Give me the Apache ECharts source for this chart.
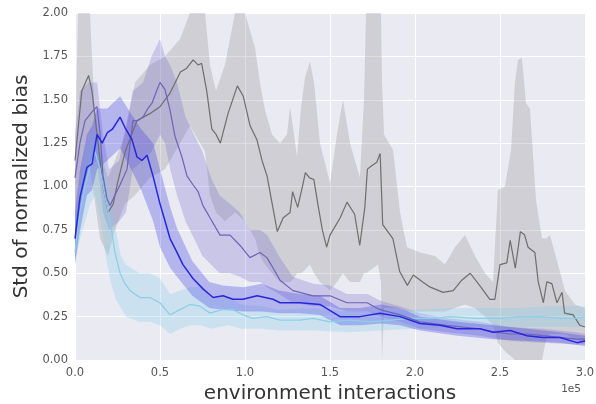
<!DOCTYPE html>
<html><head><meta charset="utf-8">
<script src="https://cdn.jsdelivr.net/npm/echarts@6/dist/echarts.min.js"></script>
<style>html,body{margin:0;padding:0;background:#fff}#c{width:596px;height:404px}</style>
</head><body><div id="c"></div>
<script>
// x in units of 1e5 environment interactions
var xTicks = [0, 0.5, 1.0, 1.5, 2.0, 2.5, 3.0];
var yTicks = [0, 0.25, 0.5, 0.75, 1.0, 1.25, 1.5, 1.75, 2.0];

var grayMean = [[0,1.15],[0.02,1.35],[0.04,1.55],[0.08,1.64],[0.10,1.55],[0.13,1.30],[0.165,1.00],[0.195,0.85],[0.225,0.90],[0.25,1.02],[0.295,1.20],[0.365,1.38],[0.44,1.42],[0.50,1.46],[0.56,1.54],[0.62,1.66],[0.655,1.68],[0.695,1.73],[0.725,1.70],[0.745,1.71],[0.775,1.55],[0.805,1.33],[0.83,1.30],[0.855,1.25],[0.90,1.42],[0.955,1.58],[0.99,1.52],[1.03,1.35],[1.07,1.27],[1.10,1.15],[1.13,1.06],[1.16,0.90],[1.19,0.74],[1.225,0.82],[1.265,0.85],[1.28,0.97],[1.31,0.88],[1.34,1.01],[1.355,1.08],[1.38,1.05],[1.405,1.04],[1.43,0.89],[1.455,0.75],[1.48,0.65],[1.50,0.72],[1.56,0.82],[1.60,0.91],[1.645,0.84],[1.675,0.66],[1.705,0.88],[1.72,1.10],[1.745,1.12],[1.775,1.14],[1.795,1.19],[1.81,0.78],[1.87,0.70],[1.91,0.51],[1.955,0.43],[1.99,0.49],[2.045,0.45],[2.09,0.42],[2.165,0.39],[2.225,0.40],[2.275,0.46],[2.325,0.50],[2.38,0.43],[2.44,0.35],[2.47,0.35],[2.50,0.55],[2.54,0.56],[2.56,0.69],[2.59,0.53],[2.62,0.74],[2.645,0.72],[2.665,0.65],[2.705,0.62],[2.725,0.45],[2.755,0.33],[2.775,0.45],[2.805,0.44],[2.835,0.33],[2.865,0.39],[2.88,0.27],[2.93,0.26],[2.97,0.20],[3.0,0.19]];
var grayBand = [[0,0.55,1.2],[0.018,0.7,2.0],[0.047,1.0,2.0],[0.088,1.1,2.0],[0.112,0.95,1.5],[0.147,0.7,1.2],[0.194,0.6,1.05],[0.235,0.75,1.15],[0.294,0.9,1.3],[0.353,0.95,1.6],[0.441,1.05,1.7],[0.529,1.1,1.75],[0.618,1.25,1.85],[0.676,1.35,2.0],[0.765,1.2,2.0],[0.794,0.95,1.7],[0.829,0.85,1.55],[0.882,0.8,1.7],[0.941,0.85,2.0],[1.0,0.8,2.0],[1.029,0.75,1.9],[1.059,0.7,1.8],[1.088,0.6,1.6],[1.118,0.55,1.44],[1.159,0.5,1.3],[1.206,0.45,1.25],[1.247,0.45,1.3],[1.265,0.45,1.46],[1.288,0.47,1.3],[1.306,0.5,1.17],[1.329,0.5,1.45],[1.353,0.52,1.63],[1.382,0.55,1.72],[1.406,0.5,1.6],[1.441,0.45,1.25],[1.5,0.40,1.02],[1.541,0.45,1.3],[1.576,0.5,1.5],[1.618,0.45,1.25],[1.676,0.45,1.05],[1.7,0.5,1.5],[1.712,0.5,2.0],[1.782,0.55,2.0],[1.8,0.45,2.0],[1.806,0.0,1.6],[1.818,0.3,1.3],[1.871,0.3,1.21],[1.912,0.3,0.85],[1.953,0.28,0.65],[2.029,0.28,0.62],[2.118,0.28,0.6],[2.176,0.28,0.55],[2.235,0.3,0.65],[2.294,0.32,0.72],[2.353,0.3,0.6],[2.412,0.25,0.5],[2.459,0.2,0.45],[2.488,0.1,0.98],[2.529,0.05,1.0],[2.565,0.02,1.21],[2.588,0.0,1.6],[2.606,0.0,1.73],[2.629,0.0,1.74],[2.653,0.0,1.48],[2.676,0.0,1.45],[2.712,0.0,0.92],[2.747,0.0,0.7],[2.771,0.12,0.7],[2.794,0.15,0.72],[2.841,0.15,0.55],[2.882,0.15,0.4],[2.941,0.12,0.32],[3.0,0.1,0.3]];

var purpleMean = [[0,1.05],[0.029,1.25],[0.059,1.38],[0.076,1.40],[0.10,1.43],[0.129,1.46],[0.147,1.31],[0.165,1.06],[0.188,0.93],[0.206,0.89],[0.235,0.95],[0.265,1.01],[0.306,1.10],[0.341,1.38],[0.371,1.38],[0.40,1.40],[0.429,1.45],[0.453,1.48],[0.476,1.54],[0.50,1.60],[0.529,1.56],[0.559,1.44],[0.588,1.29],[0.629,1.17],[0.659,1.06],[0.694,1.01],[0.724,0.97],[0.753,0.89],[0.794,0.82],[0.853,0.72],[0.912,0.72],[0.971,0.66],[1.029,0.59],[1.088,0.62],[1.129,0.59],[1.165,0.53],[1.206,0.46],[1.282,0.40],[1.40,0.37],[1.50,0.37],[1.60,0.33],[1.718,0.33],[1.794,0.29],[1.912,0.26],[2.029,0.22],[2.188,0.20],[2.282,0.19],[2.382,0.18],[2.476,0.16],[2.559,0.15],[2.659,0.15],[2.753,0.14],[2.853,0.13],[2.953,0.12],[3.0,0.12]];
var purpleBand = [[0,0.6,1.3],[0.03,0.9,1.55],[0.08,1.1,1.6],[0.13,1.15,1.6],[0.165,0.85,1.3],[0.2,0.75,1.1],[0.26,0.8,1.15],[0.3,0.85,1.35],[0.34,1.1,1.55],[0.4,1.15,1.6],[0.45,1.2,1.75],[0.5,1.3,1.85],[0.53,1.25,1.75],[0.56,1.1,1.7],[0.6,0.95,1.6],[0.65,0.8,1.4],[0.7,0.7,1.3],[0.75,0.6,1.2],[0.8,0.55,1.05],[0.85,0.5,0.95],[0.91,0.5,0.9],[0.97,0.48,0.85],[1.03,0.45,0.75],[1.09,0.45,0.75],[1.13,0.42,0.72],[1.2,0.38,0.6],[1.28,0.33,0.48],[1.4,0.31,0.44],[1.5,0.31,0.43],[1.6,0.28,0.38],[1.72,0.28,0.38],[1.8,0.25,0.34],[1.91,0.22,0.31],[2.03,0.18,0.27],[2.19,0.16,0.24],[2.38,0.14,0.22],[2.56,0.11,0.19],[2.75,0.10,0.18],[2.95,0.09,0.16],[3.0,0.09,0.15]];

var blueMean = [[0,0.70],[0.03,0.94],[0.07,1.11],[0.10,1.13],[0.13,1.30],[0.16,1.25],[0.19,1.31],[0.22,1.33],[0.265,1.40],[0.294,1.34],[0.335,1.27],[0.365,1.17],[0.394,1.15],[0.424,1.18],[0.459,1.06],[0.50,0.90],[0.53,0.80],[0.559,0.70],[0.60,0.62],[0.635,0.55],[0.694,0.47],[0.753,0.41],[0.812,0.36],[0.871,0.37],[0.929,0.35],[0.988,0.35],[1.071,0.37],[1.165,0.35],[1.206,0.33],[1.324,0.33],[1.441,0.32],[1.559,0.25],[1.676,0.25],[1.794,0.27],[1.912,0.25],[2.029,0.21],[2.147,0.20],[2.247,0.18],[2.382,0.18],[2.459,0.16],[2.559,0.17],[2.659,0.14],[2.753,0.13],[2.853,0.13],[2.953,0.10],[3.0,0.11]];
var blueBand = [[0,0.56,0.85],[0.03,0.75,1.1],[0.07,0.95,1.3],[0.1,0.98,1.35],[0.13,1.1,1.45],[0.19,1.15,1.45],[0.265,1.22,1.52],[0.33,1.1,1.42],[0.39,0.98,1.33],[0.46,0.8,1.25],[0.5,0.65,1.1],[0.56,0.53,0.88],[0.6,0.48,0.76],[0.69,0.37,0.57],[0.79,0.30,0.45],[0.87,0.29,0.43],[0.99,0.28,0.42],[1.1,0.28,0.44],[1.2,0.27,0.40],[1.32,0.27,0.38],[1.44,0.26,0.37],[1.56,0.2,0.30],[1.68,0.2,0.30],[1.8,0.21,0.32],[1.91,0.2,0.30],[2.03,0.17,0.25],[2.25,0.14,0.22],[2.46,0.12,0.20],[2.66,0.11,0.18],[2.85,0.10,0.16],[3.0,0.08,0.14]];

var cyanMean = [[0,0.62],[0.029,0.85],[0.059,1.0],[0.088,1.12],[0.118,1.2],[0.147,1.10],[0.176,0.95],[0.206,0.80],[0.235,0.62],[0.265,0.50],[0.294,0.44],[0.324,0.40],[0.382,0.36],[0.441,0.36],[0.50,0.33],[0.559,0.26],[0.618,0.29],[0.676,0.32],[0.735,0.31],[0.794,0.27],[0.865,0.29],[0.929,0.29],[0.988,0.26],[1.047,0.24],[1.129,0.25],[1.206,0.23],[1.324,0.23],[1.40,0.24],[1.50,0.22],[1.618,0.23],[1.735,0.22],[1.853,0.23],[1.971,0.24],[2.088,0.24],[2.206,0.25],[2.365,0.24],[2.50,0.24],[2.618,0.25],[2.735,0.25],[2.853,0.24],[2.953,0.24],[3.0,0.25]];
var cyanBand = [[0,0.55,0.7],[0.03,0.7,1.0],[0.06,0.8,1.2],[0.09,0.9,1.3],[0.12,0.95,1.32],[0.15,0.8,1.25],[0.18,0.6,1.1],[0.21,0.45,0.95],[0.24,0.35,0.75],[0.27,0.3,0.6],[0.3,0.25,0.55],[0.38,0.22,0.5],[0.44,0.22,0.5],[0.5,0.2,0.47],[0.56,0.15,0.38],[0.62,0.18,0.4],[0.68,0.2,0.42],[0.74,0.2,0.42],[0.8,0.18,0.36],[0.9,0.2,0.36],[0.98,0.18,0.32],[1.1,0.18,0.31],[1.2,0.17,0.29],[1.4,0.17,0.3],[1.6,0.16,0.28],[1.8,0.17,0.28],[2.0,0.18,0.29],[2.2,0.19,0.3],[2.4,0.19,0.3],[2.6,0.19,0.3],[2.8,0.19,0.31],[3.0,0.19,0.31]];

function band(arr, color, z) {
  return {
    type: 'custom', silent: true, z: z, clip: true,
    data: [[arr[0][0], arr[0][1]]],
    renderItem: function (params, api) {
      if (params.dataIndex !== 0) return null;
      var pts = [];
      for (var i = 0; i < arr.length; i++) pts.push(api.coord([arr[i][0], arr[i][2]]));
      for (var j = arr.length - 1; j >= 0; j--) pts.push(api.coord([arr[j][0], arr[j][1]]));
      return { type: 'polygon', shape: { points: pts }, style: { fill: color, stroke: null } };
    }
  };
}
function line(arr, color, w, z) {
  return { type: 'line', data: arr, showSymbol: false, symbol: 'none', silent: true, z: z,
    lineStyle: { color: color, width: w }, emphasis: { disabled: true } };
}

var chart = echarts.init(document.getElementById('c'), null, { renderer: 'canvas' });
chart.setOption({
  animation: false,
  backgroundColor: '#ffffff',
  grid: { left: 75, right: 11, top: 13, bottom: 44, show: true, backgroundColor: '#EAEAF2', borderWidth: 0,
    containLabel: false, outerBoundsMode: 'none' },
  xAxis: {
    type: 'value', min: 0, max: 3, interval: 0.5,
    name: 'environment interactions', nameLocation: 'middle', nameGap: 15,
    nameTextStyle: { fontSize: 20, color: '#333', fontFamily: 'DejaVu Sans' },
    axisLine: { show: false }, axisTick: { show: false },
    axisLabel: { margin: 7, fontSize: 11.5, color: '#555', fontFamily: 'DejaVu Sans',
      formatter: function (v) { return xTicks.indexOf(v) >= 0 ? v.toFixed(1) : ''; } },
    splitLine: { show: true, lineStyle: { color: '#ffffff', width: 1 } }
  },
  yAxis: {
    type: 'value', min: 0, max: 2, interval: 0.25,
    name: 'Std of normalized bias', nameLocation: 'middle', nameGap: 37,
    nameTextStyle: { fontSize: 20, color: '#333', fontFamily: 'DejaVu Sans' },
    axisLine: { show: false }, axisTick: { show: false },
    axisLabel: { margin: 7, fontSize: 11.5, color: '#555', fontFamily: 'DejaVu Sans',
      formatter: function (v) { return yTicks.indexOf(v) >= 0 ? v.toFixed(2) : ''; } },
    splitLine: { show: true, lineStyle: { color: '#ffffff', width: 1 } }
  },
  graphic: [{ type: 'text', right: 15, top: 384,
    style: { text: '1e5', fontSize: 10.5, fill: '#555', fontFamily: 'DejaVu Sans' } }],
  series: [
    band(grayBand, 'rgba(128,128,128,0.25)', 1),
    band(purpleBand, 'rgba(106,90,205,0.25)', 1),
    band(cyanBand, 'rgba(135,206,235,0.3)', 1),
    band(blueBand, 'rgba(60,60,230,0.3)', 1),
    line(grayMean, '#6e6e6e', 1.2, 3),
    line(cyanMean, '#8ccfe6', 1.3, 3),
    line(purpleMean, '#6f62b8', 1.2, 3),
    line(blueMean, '#2626dc', 1.5, 4)
  ]
});
</script></body></html>
